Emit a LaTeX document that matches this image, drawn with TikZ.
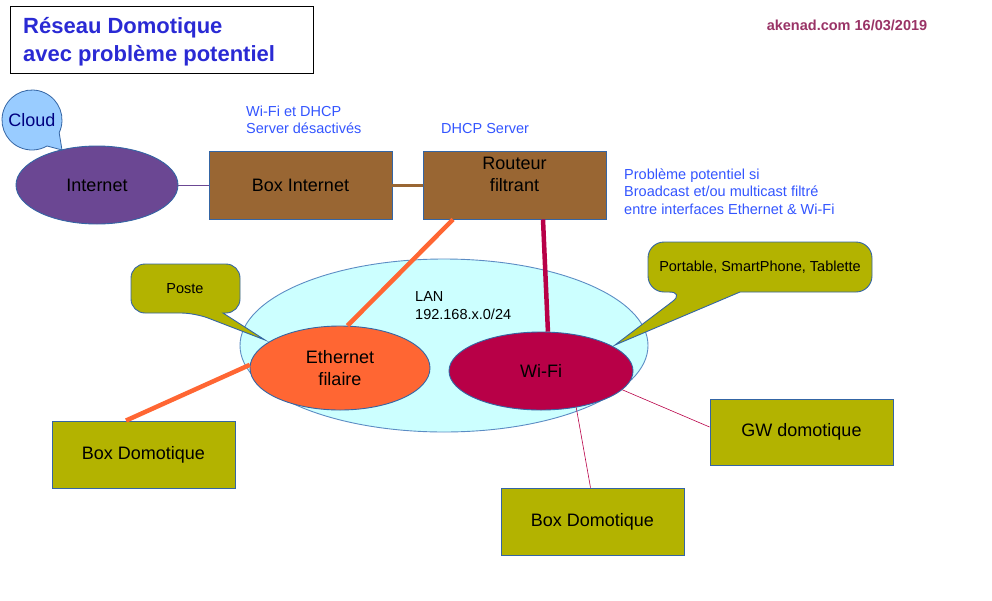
\documentclass[tikz,border=0pt]{standalone}
\usepackage{fontspec}
\setmainfont{Liberation Sans}
\usetikzlibrary{shapes.geometric}
\definecolor{titleblue}{HTML}{2A2AD4}
\definecolor{noteblue}{HTML}{3355FF}
\definecolor{akc}{HTML}{993366}
\definecolor{bord}{HTML}{3465A4}
\definecolor{cloudc}{HTML}{99CCFF}
\definecolor{navyc}{HTML}{000080}
\definecolor{purplec}{HTML}{6B4793}
\definecolor{brownc}{HTML}{996633}
\definecolor{orangec}{HTML}{FF6633}
\definecolor{crimsonc}{HTML}{B80047}
\definecolor{lanc}{HTML}{CCFFFF}
\definecolor{lanb}{HTML}{5C8CC4}
\definecolor{olivec}{HTML}{B3B300}
\begin{document}
\begin{tikzpicture}[x=1pt,y=-1pt,
  fs/.style={font=\fontsize{18}{22}\selectfont},
  sm/.style={font=\fontsize{14.5}{17.5}\selectfont},
  bx/.style={draw=bord, line width=0.9pt, rectangle, inner sep=0pt, fs},
  ell/.style={draw=bord, line width=0.9pt, ellipse, inner sep=0pt, fs, align=center},
  note/.style={text=noteblue, sm, inner sep=0pt, anchor=west, align=left},
  callout/.style={draw=bord, fill=olivec, line width=0.9pt},
]
\useasboundingbox (0,0) rectangle (992,600);
% title
\node[draw=black, line width=0.9pt, minimum width=303pt, minimum height=67pt, inner sep=0pt] (titlebox) at (161.5,39.5) {};
\node[anchor=west, inner sep=0pt, align=left, text=titleblue, font=\bfseries\fontsize{22}{27.5}\selectfont] (title) at (23,41.5) {Réseau Domotique\\avec problème potentiel};
\node[inner sep=0pt, text=akc, font=\bfseries\fontsize{14.5}{17}\selectfont] (ak) at (847,25) {akenad.com 16/03/2019};
% notes
\node[note] (n1) at (246,120) {Wi-Fi et DHCP\\Server désactivés};
\node[note] (n2) at (441,129) {DHCP Server};
\node[note] (n3) at (624,191.5) {Problème potentiel si\\Broadcast et/ou multicast filtré\\entre interfaces Ethernet \& Wi-Fi};
% internet
\node[ell, fill=purplec, minimum width=162pt, minimum height=78pt] (inet) at (97,185) {Internet};
\draw[draw=bord, fill=cloudc, line width=0.8pt] (59.19,132.68) arc[start angle=-25, end angle=300, radius=30pt] -- (62,150) -- cycle;
\node[fs, text=navyc, inner sep=0pt] (cloud) at (32,120) {Cloud};
% boxes
\node[bx, fill=brownc, minimum width=183pt, minimum height=68pt] (boxi) at (300.5,185) {Box Internet};
\node[bx, fill=brownc, minimum width=183pt, minimum height=68pt] (rout) at (514.5,185) {};
\node[fs, align=center, inner sep=0pt] (routtxt) at (514.5,174) {Routeur\\filtrant};
% LAN
\node[ell, fill=lanc, draw=lanb, minimum width=408pt, minimum height=173pt] (lan) at (444,345.5) {};
\node[anchor=west, inner sep=0pt, align=left, sm] (lantxt) at (415,305.5) {LAN\\192.168.x.0/24};
% callouts
\draw[callout] (223,313) [rounded corners=14pt] -- (240,313) -- (240,264) -- (131,264) -- (131,313) -- (195,313) [sharp corners] -- (265,340) -- cycle;
\node[sm, inner sep=0pt] (poste) at (185,289) {Poste};
\draw[callout] (740,292) [rounded corners=16pt] -- (872,292) -- (872,242) -- (648,242) -- (648,292) -- (685,292) [sharp corners] -- (615,345) -- cycle;
\node[sm, inner sep=0pt] (port) at (760,267) {Portable, SmartPhone, Tablette};
% inner ellipses
\node[ell, fill=orangec, minimum width=180pt, minimum height=84pt] (eth) at (340,368) {Ethernet\\filaire};
\node[ell, fill=crimsonc, minimum width=184pt, minimum height=78pt] (wifi) at (541,371) {Wi-Fi};
% domotique boxes
\node[bx, fill=olivec, minimum width=183pt, minimum height=67pt] (bd1) at (143.5,454.5) {Box Domotique};
\node[bx, fill=olivec, minimum width=183pt, minimum height=67pt] (bd2) at (592.5,521.5) {Box Domotique};
\node[bx, fill=olivec, minimum width=183pt, minimum height=66pt] (gw) at (801.5,432) {GW domotique};
% connectors
\draw[purplec, line width=1pt] (inet) -- (boxi);
\draw[brownc, line width=3pt] (boxi) -- (rout);
\draw[orangec, line width=4.5pt] ([xshift=-61.5pt]rout.south) -- (eth.80);
\draw[orangec, line width=4.5pt] (eth.178) -- ([xshift=-17.5pt]bd1.north);
\draw[crimsonc, line width=4.5pt] ([xshift=28.5pt]rout.south) -- (wifi.80);
\draw[crimsonc, line width=0.6pt] (wifi.-13) -- ([yshift=5pt]gw.west);
\draw[crimsonc, line width=0.6pt] (wifi.-46) -- ([xshift=-2pt]bd2.north);
\end{tikzpicture}
\end{document}
